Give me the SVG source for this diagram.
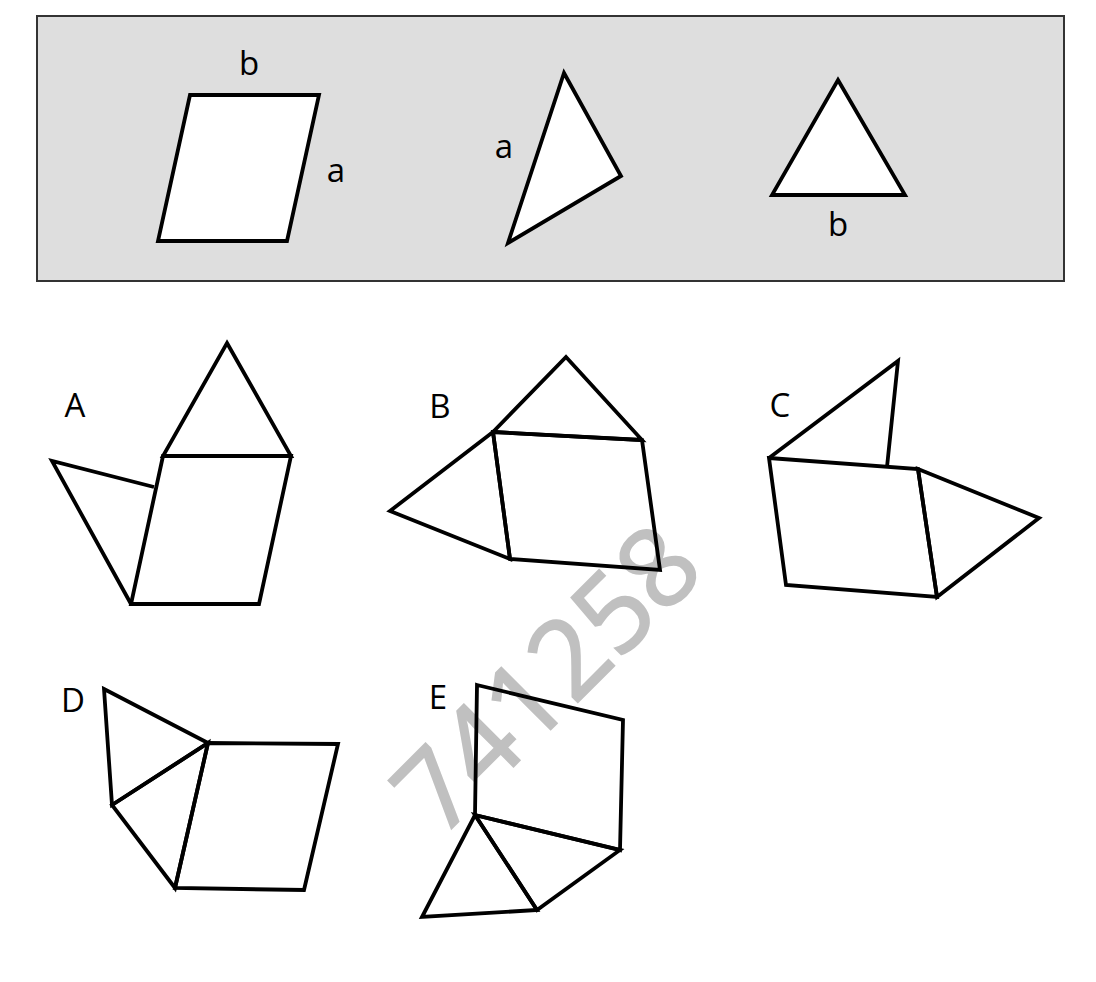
<svg xmlns="http://www.w3.org/2000/svg" width="1096" height="982" viewBox="0 0 1096 982">
<style>
.s{fill:#fff;stroke:#000;stroke-width:3.8;stroke-linejoin:miter}
.o{fill:none;stroke:#000;stroke-width:3.8;stroke-linejoin:miter}
.t{font-family:"Open Sans","Noto Sans",sans-serif;font-size:33px;fill:#000;text-anchor:middle}
.w{font-family:"Open Sans","Noto Sans",sans-serif;font-size:110px;fill:#c0c0c0;stroke:#c0c0c0;stroke-width:2;text-anchor:middle}
</style>
<rect width="1096" height="982" fill="#fff"/>
<g id="legend">
<rect x="37" y="16" width="1027" height="265" fill="#dedede" stroke="#333" stroke-width="2"/>
<polygon class="s" points="190,95 319,95 287,241 158,241"/>
<text class="t" x="249" y="75">b</text>
<text class="t" x="336" y="182">a</text>
<polygon class="s" points="564,73 621,176 508,243"/>
<text class="t" x="504" y="158">a</text>
<polygon class="s" points="838,80 905,195 772,195"/>
<text class="t" x="838" y="236">b</text>
</g>
<text class="w" x="574" y="706" transform="rotate(-45 574 706)">741258</text>
<g id="optionA">
<text class="t" x="75" y="417">A</text>
<polygon class="o" points="227,343 291,456 163,456"/>
<polygon class="o" points="163,456 291,456 259,604 131,604"/>
<polyline class="o" points="154,487 52,461 131,604"/>
</g>
<g id="optionB">
<text class="t" x="440" y="418">B</text>
<polygon class="o" points="566,357 642,440 493,432"/>
<polygon class="o" points="493,432 642,440 660,570 510,559"/>
<polygon class="o" points="390,511 493,432 510,559"/>
</g>
<g id="optionC">
<text class="t" x="780" y="417">C</text>
<polyline class="o" points="887,467 898,361 769,458"/>
<polygon class="o" points="769,458 918,469 937,597 786,585"/>
<polygon class="o" points="918,469 1039,518 937,597"/>
</g>
<g id="optionD">
<text class="t" x="73" y="712">D</text>
<polygon class="o" points="104,689 208,743 112,805"/>
<polygon class="o" points="112,805 208,743 175,888"/>
<polygon class="o" points="208,743 338,744 304,890 175,888"/>
</g>
<g id="optionE">
<text class="t" x="438" y="709">E</text>
<polygon class="o" points="477,685 623,720 620,850 475,815"/>
<polygon class="o" points="475,815 620,850 537,910"/>
<polygon class="o" points="475,815 537,910 422,917"/>
</g>
<g id="connectors"/>
</svg>
